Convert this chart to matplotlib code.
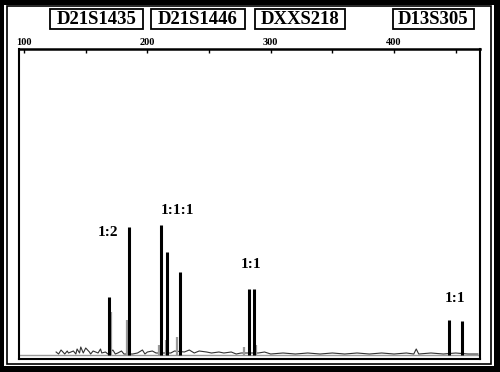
import numpy as np
import matplotlib
matplotlib.use("Agg")
import matplotlib.pyplot as plt
from matplotlib.patches import Rectangle

# marker names shown above the trace
markers = ["D21S1435", "D21S1446", "DXXS218", "D13S305"]

# main allele peaks (size in bp, height in RFU-ish units)
peak_pos = [168.7, 185.4, 211.1, 216.0, 226.3, 282.5, 286.5, 444.4, 455.2]
peak_h = [58, 128, 130, 103, 83, 66, 66, 35, 34]

# stutter / shadow peaks (gray)
stutter_pos = [170.3, 183.3, 209.5, 215.0, 224.4, 278.4, 288.0]
stutter_h = [43, 35, 10, 15, 18, 8, 10]

# baseline noise
noise_x = [126, 128, 130, 133, 135, 136, 140, 142, 143, 145, 146, 148, 150, 153, 154, 156,
           160, 162, 163, 166, 168, 172, 174, 176, 179, 181, 188, 192, 196, 198, 200, 204,
           207, 219, 222, 230, 234, 238, 242, 248, 252, 258, 262, 268, 272, 276, 290, 295,
           300, 310, 320, 330, 340, 350, 360, 370, 380, 390, 400, 410, 416, 418, 420, 430,
           440, 450, 460, 468]
noise_y = [3, 1, 5, 1, 4, 2, 4, 1, 6, 2, 8, 2, 7, 3, 1, 4,
           2, 6, 2, 3, 1, 5, 1, 2, 4, 1, 1, 2, 5, 1, 3, 4,
           2, 2, 4, 3, 5, 2, 4, 3, 2, 3, 2, 3, 1, 2, 2, 3,
           1, 2, 1, 2, 1, 2, 1, 2, 1, 2, 1, 2, 1, 6, 1, 2,
           1, 2, 1, 1]

# ratio labels: (text, x, y)
ratio_labels = [("1:2", 168, 122), ("1:1:1", 224.5, 144), ("1:1", 284, 90), ("1:1", 449.5, 56)]

W, H = 500, 372
serif = "Liberation Serif"


def px(x, y):
    return x / W, 1 - y / H


fig = plt.figure(figsize=(5, 3.72), dpi=100, facecolor="black")

# white page and thin inner frame (behind the axes)
x0, y0 = px(4, 366)
fig.add_artist(Rectangle((x0, y0), 490 / W, 361 / H, transform=fig.transFigure,
                         facecolor="white", edgecolor="none", zorder=-10))
x0, y0 = px(6.5, 363.5)
fig.add_artist(Rectangle((x0, y0), 484 / W, 357.5 / H, transform=fig.transFigure,
                         facecolor="none", edgecolor="black", lw=1.2, zorder=-9))

# boxed marker names
box_cx = [96.5, 198, 300, 433.5]
box_w = [93, 94, 90, 81]
for name, cx, bw in zip(markers, box_cx, box_w):
    bx, by = px(cx - bw / 2, 29)
    fig.add_artist(Rectangle((bx, by), bw / W, 20 / H, transform=fig.transFigure,
                             facecolor="white", edgecolor="black", lw=1.3))
    tx, ty = px(cx, 19.5)
    fig.text(tx, ty, name, ha="center", va="center", fontsize=13.5,
             fontweight="bold", family=serif)

l, b = px(19, 359)
r, t = px(480, 49)
ax = fig.add_axes([l, b, r - l, t - b])
ax.set_facecolor("white")
ax.set_zorder(5)

ax.axhline(0, color="#999999", lw=1.0, zorder=1)
ax.plot(noise_x, noise_y, color="#333333", lw=0.8, zorder=2)
ax.vlines(stutter_pos, 0, stutter_h, color="#9a9a9a", lw=1.6, zorder=2)
ax.vlines(peak_pos, 0, peak_h, color="black", lw=2.2, zorder=3)

for txt, x, y in ratio_labels:
    ax.text(x, y, txt, ha="center", va="center", fontsize=11,
            fontweight="bold", family=serif)

ax.set_xlim(95.9, 469.7)
ax.set_ylim(-4, 306)
ax.xaxis.tick_top()
ax.set_xticks([100, 200, 300, 400])
ax.set_xticks([150, 250, 350, 450], minor=True)
ax.set_xticklabels(["100", "200", "300", "400"], fontsize=7.5, fontweight="bold", family=serif)
ax.tick_params(axis="x", which="both", direction="in", length=3, width=1, pad=1.5)
ax.set_yticks([])
for side in ["left", "right", "bottom"]:
    ax.spines[side].set_linewidth(1.5)
ax.spines["top"].set_linewidth(1.8)

fig.savefig("out.png", dpi=100, facecolor=fig.get_facecolor())
